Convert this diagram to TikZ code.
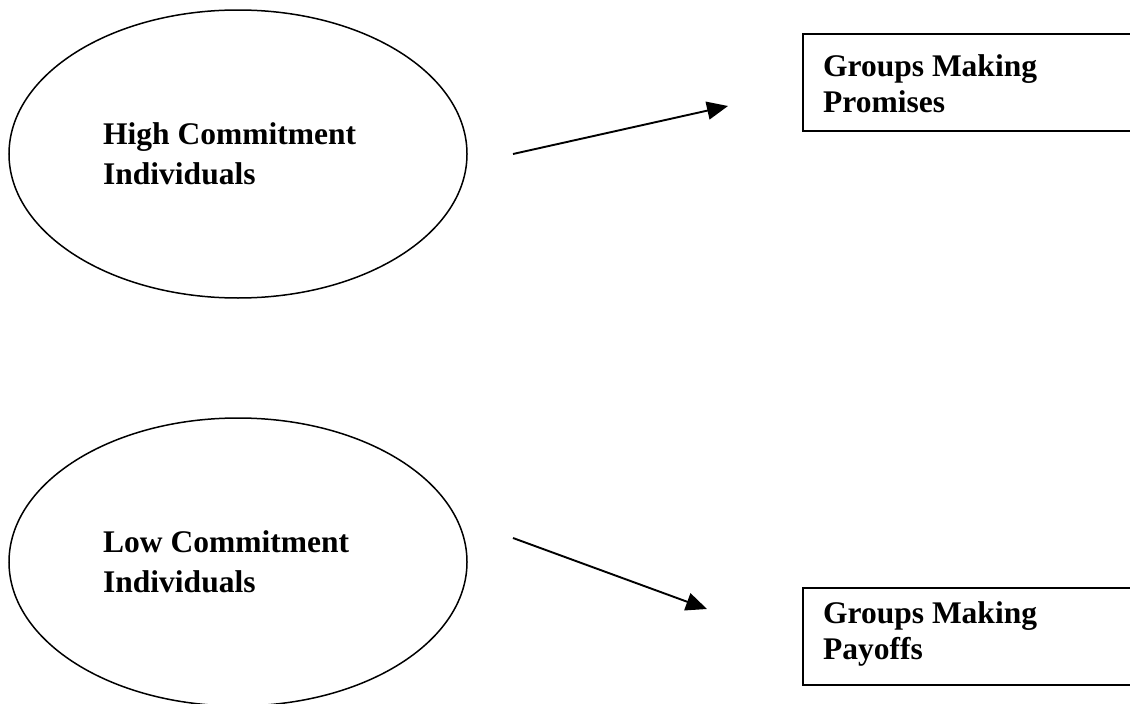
\documentclass[tikz,border=0pt]{standalone}
\usepackage{fontspec}
\setmainfont{Liberation Serif}
\usetikzlibrary{shapes.geometric,arrows.meta}
\tikzset{
  ellip/.style={draw, ellipse, line width=1.5pt, minimum width=458pt, minimum height=288pt, inner sep=0pt},
  boxnode/.style={draw, rectangle, line width=1.8pt, minimum width=360pt, minimum height=97pt, inner sep=0pt, anchor=north west},
  lbl/.style={anchor=north west, inner sep=0pt, align=left, font=\bfseries\fontsize{31.5}{40}\selectfont},
  blbl/.style={anchor=north west, inner sep=0pt, align=left, font=\bfseries\fontsize{31.5}{36}\selectfont},
  conn/.style={line width=1.9pt, -{Triangle[length=21pt,width=18pt]}}
}
\begin{document}
\begin{tikzpicture}[x=1pt,y=-1pt]
\useasboundingbox (0,0) rectangle (1130,704);
\node[ellip] (hi) at (238,154) {};
\node[ellip] (lo) at (238,562) {};
\node[lbl] (hit) at (103,122.7) {High Commitment\\Individuals};
\node[lbl] (lot) at (103,530.7) {Low Commitment\\Individuals};
\node[boxnode] (pr) at (802,33) {};
\node[boxnode] (pa) at (802,587) {};
\node[blbl] (prt) at (823,54.7) {Groups Making\\Promises};
\node[blbl] (pat) at (823,601.7) {Groups Making\\Payoffs};
\coordinate (a1s) at (513,154);
\coordinate (a1e) at (728,106);
\coordinate (a2s) at (513,538);
\coordinate (a2e) at (707,609);
\draw[conn] (a1s) -- (a1e);
\draw[conn] (a2s) -- (a2e);
\end{tikzpicture}
\end{document}
